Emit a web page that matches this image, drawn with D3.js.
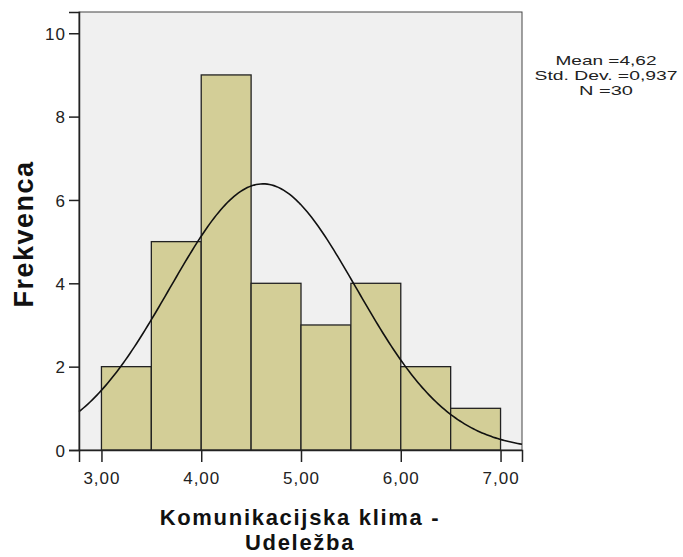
<!DOCTYPE html>
<html>
<head>
<meta charset="utf-8">
<script src="https://cdn.jsdelivr.net/npm/d3@7"></script>
<style>
  body { margin: 0; background: #fff; }
  text { font-family: Arial, "Liberation Sans", sans-serif; }
</style>
</head>
<body>
<script>
var binStart = [3.0, 3.5, 4.0, 4.5, 5.0, 5.5, 6.0, 6.5];
var counts = [2, 5, 9, 4, 3, 4, 2, 1];
var binWidth = 0.5;
var mean = 4.62, sd = 0.937, n = 30;
var xTicks = [3, 4, 5, 6, 7];
var yTicks = [0, 2, 4, 6, 8, 10];
var statLines = ["Mean =4,62", "Std. Dev. =0,937", "N =30"];

var width = 683, height = 557;
var plot = {left: 79, top: 12, right: 522, bottom: 450};

var svg = d3.select("body").append("svg")
    .attr("width", width)
    .attr("height", height);

var x = d3.scaleLinear().domain([2.775, 7.215]).range([plot.left, plot.right]);
var y = d3.scaleLinear().domain([0, 10.51]).range([plot.bottom, plot.top]);

// plot background + frame
svg.append("rect")
    .attr("x", plot.left).attr("y", plot.top)
    .attr("width", plot.right - plot.left).attr("height", plot.bottom - plot.top)
    .attr("fill", "#f0f0f0")
    .attr("stroke", "#444").attr("stroke-width", 1);

// bars
svg.append("g").selectAll("rect")
    .data(counts)
    .enter().append("rect")
    .attr("x", function (d, i) { return x(binStart[i]); })
    .attr("y", function (d) { return y(d); })
    .attr("width", function (d, i) { return x(binStart[i] + binWidth) - x(binStart[i]); })
    .attr("height", function (d) { return y(0) - y(d); })
    .attr("fill", "#d3ce97")
    .attr("stroke", "#222")
    .attr("stroke-width", 1.3);

// normal curve
var pts = [];
var dom = x.domain();
for (var k = 0; k <= 200; k++) {
    var v = dom[0] + (dom[1] - dom[0]) * k / 200;
    var f = n * binWidth / (sd * Math.sqrt(2 * Math.PI)) * Math.exp(-0.5 * Math.pow((v - mean) / sd, 2));
    pts.push([v, f]);
}
svg.append("path")
    .attr("d", d3.line().x(function (d) { return x(d[0]); }).y(function (d) { return y(d[1]); })(pts))
    .attr("fill", "none")
    .attr("stroke", "#111")
    .attr("stroke-width", 1.6);

// axes
var fmt = function (d) { return d3.format(".2f")(d).replace(".", ","); };

var xAxis = svg.append("g")
    .attr("transform", "translate(0," + plot.bottom + ")")
    .call(d3.axisBottom(x).tickValues(xTicks).tickSize(12).tickPadding(10).tickFormat(fmt));
var yAxis = svg.append("g")
    .attr("transform", "translate(" + plot.left + ",0)")
    .call(d3.axisLeft(y).tickValues(yTicks).tickSize(10).tickPadding(3));

[xAxis, yAxis].forEach(function (a) {
    a.select(".domain").attr("stroke", "#222").attr("stroke-width", 1.5);
    a.selectAll(".tick line").attr("stroke", "#222").attr("stroke-width", 1.5);
    a.selectAll(".tick text")
        .attr("fill", "#222")
        .style("font-size", "17px")
        .style("letter-spacing", "1px")
        .style("font-family", "Arial, 'Liberation Sans', sans-serif");
});
yAxis.selectAll(".tick text").attr("dy", "0.36em");

// axis titles
svg.append("text")
    .attr("transform", "translate(33," + ((plot.top + plot.bottom) / 2 + 3) + ") rotate(-90)")
    .attr("text-anchor", "middle")
    .style("font-size", "27px")
    .style("font-weight", "bold")
    .style("letter-spacing", "1.5px")
    .attr("fill", "#111")
    .text("Frekvenca");

var xt = svg.append("text")
    .attr("text-anchor", "middle")
    .style("font-size", "22px")
    .style("font-weight", "bold")
    .style("letter-spacing", "1.7px")
    .attr("fill", "#111");
xt.append("tspan").attr("x", 300).attr("y", 525).text("Komunikacijska klima -");
xt.append("tspan").attr("x", 300).attr("y", 550).text("Udeležba");

// stats (glyphs stretched to the reference widths)
var statWidths = [101, 143, 54];
svg.append("g").selectAll("text")
    .data(statLines)
    .enter().append("text")
    .attr("x", 606)
    .attr("y", function (d, i) { return 65 + i * 15; })
    .attr("text-anchor", "middle")
    .attr("textLength", function (d, i) { return statWidths[i]; })
    .attr("lengthAdjust", "spacingAndGlyphs")
    .style("font-size", "13px")
    .attr("fill", "#222")
    .text(function (d) { return d; });
</script>
</body>
</html>
